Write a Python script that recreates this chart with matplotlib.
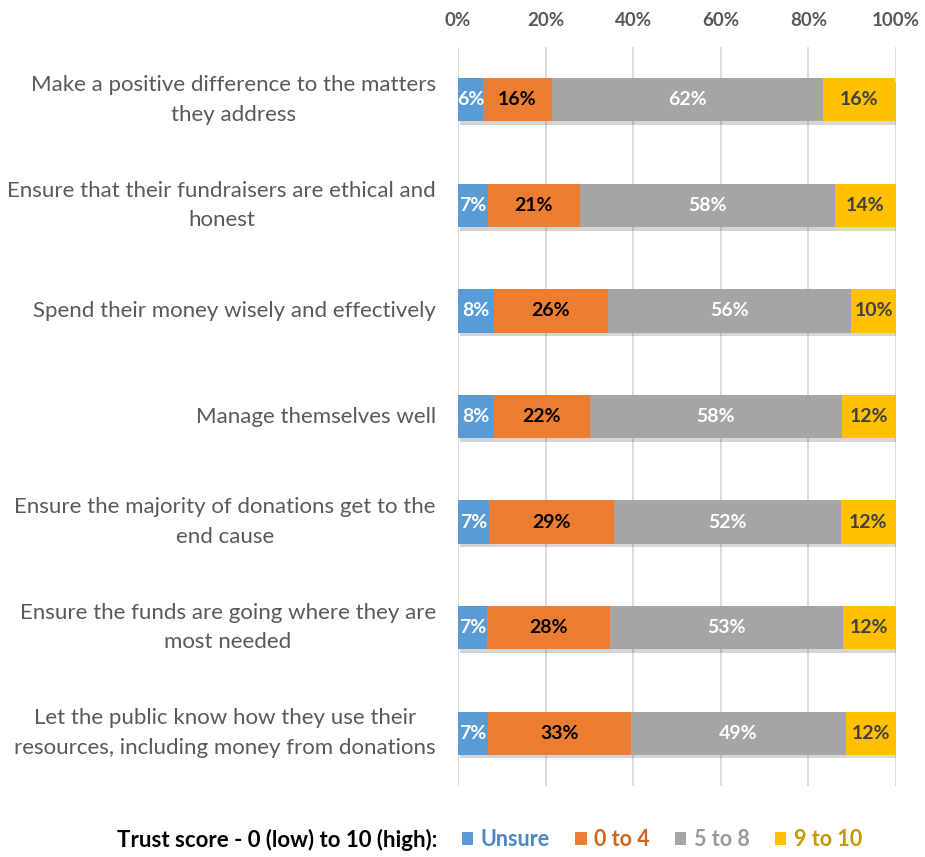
import matplotlib
matplotlib.use("Agg")
import matplotlib.pyplot as plt
import matplotlib.patheffects as pe
from matplotlib.patches import Patch
import matplotlib.transforms as mtransforms
import numpy as np

plt.rcParams['font.family'] = ['Lato', 'DejaVu Sans']

categories = [
    "Make a positive difference to the matters\nthey address",
    "Ensure that their fundraisers are ethical and\nhonest",
    "Spend their money wisely and effectively",
    "Manage themselves well",
    "Ensure the majority of donations get to the\nend cause",
    "Ensure the funds are going where they are\nmost needed",
    "Let the public know how they use their\nresources, including money from donations",
]
series_names = ["Unsure", "0 to 4", "5 to 8", "9 to 10"]
unsure = [5.7, 6.8, 8.2, 8.2, 7.1, 6.6, 6.8]
low = [15.7, 21.0, 26.0, 21.9, 28.6, 28.1, 32.6]
mid = [62.0, 58.3, 55.6, 57.6, 51.8, 53.2, 49.1]
high = [16.4, 13.9, 10.2, 12.3, 12.4, 12.1, 11.5]
tick_values = [0, 20, 40, 60, 80, 100]

series = [unsure, low, mid, high]
colors = ["#5B9BD5", "#ED7D31", "#A5A5A5", "#FFC000"]
label_colors = ["white", "black", "white", "#404040"]
legend_text_colors = ["#4A86C8", "#D0651E", "#9A9A9A", "#C49A00"]

fig = plt.figure(figsize=(9.25, 8.57), dpi=100)
ax = fig.add_axes([0.4951, 0.0828, 0.4735, 0.8623])

y = np.arange(len(categories))
left = np.zeros(len(categories))
for vals, c, lc in zip(series, colors, label_colors):
    vals = np.array(vals)
    ax.barh(y, vals, left=left, height=0.41, color=c, zorder=3,
            path_effects=[pe.SimplePatchShadow(offset=(1.5, -2.5), alpha=0.2),
                          pe.Normal()])
    for yi, l, v in zip(y, left, vals):
        ax.text(l + v / 2, yi, f"{v:.0f}%", ha="center", va="center",
                color=lc, fontsize=14, fontweight="bold", zorder=4)
    left += vals

ax.set_xlim(0, 100)
ax.set_ylim(len(categories) - 0.5, -0.5)
ax.set_xticks(tick_values)
ax.set_xticklabels([f"{t}%" for t in tick_values])
ax.xaxis.tick_top()
ax.tick_params(axis="x", length=0, pad=13, labelsize=13.5, labelcolor="#595959")
for lab in ax.get_xticklabels():
    lab.set_fontweight("bold")
ax.set_yticks(y)
ax.set_yticklabels([])
ax.tick_params(axis="y", length=0)

# category labels
blend = mtransforms.blended_transform_factory(fig.transFigure, ax.transData)
for yi, cat in zip(y, categories):
    ax.text(436 / 925, yi, cat, transform=blend, ha="right", va="center",
            multialignment="center", fontsize=16, color="#595959",
            linespacing=1.6)

ax.grid(axis="x", color="#D9D9D9", linewidth=1.3, zorder=0)
for s in ax.spines.values():
    s.set_visible(False)

fig.text(0.126, 0.02, "Trust score - 0 (low) to 10 (high):", fontsize=16,
         fontweight="bold", color="black", va="center")
handles = [Patch(facecolor=c) for c in colors]
leg = fig.legend(handles, series_names, loc="center left", bbox_to_anchor=(0.478, 0.02),
                 ncol=4, frameon=False, handlelength=0.55, handleheight=0.55,
                 handletextpad=0.35, columnspacing=1.15,
                 prop={"size": 15.5, "weight": "bold"})
for t, c in zip(leg.get_texts(), legend_text_colors):
    t.set_color(c)

fig.savefig("out.png", dpi=100, facecolor="white")
